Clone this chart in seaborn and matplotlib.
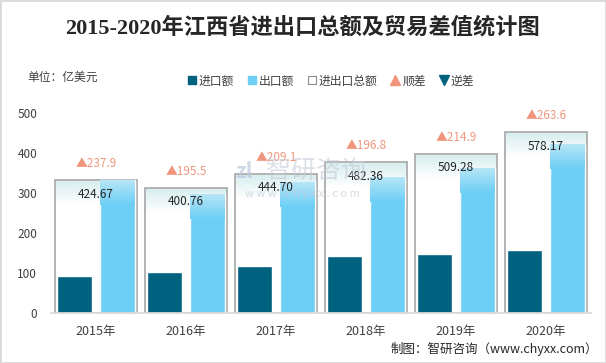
import numpy as np
import pandas as pd
import matplotlib
matplotlib.use("Agg")
import matplotlib.pyplot as plt
import seaborn as sns
from matplotlib.colors import LinearSegmentedColormap
from matplotlib.lines import Line2D
from matplotlib.patches import Rectangle

years = ["2015年", "2016年", "2017年", "2018年", "2019年", "2020年"]
imports = [93.4, 102.6, 117.8, 142.8, 147.2, 157.3]
exports = [331.3, 298.1, 326.9, 339.6, 362.1, 420.9]
totals = [424.67, 400.76, 444.70, 482.36, 509.28, 578.17]
surplus = [237.9, 195.5, 209.1, 196.8, 214.9, 263.6]

c_imp = "#00627f"
c_exp = "#6dcff6"
c_box = "#a6a6a6"
c_tri = "#f0967c"

sns.set_theme(style="white")
plt.rcParams["font.family"] = ["Noto Sans CJK SC", "DejaVu Sans"]

df = pd.DataFrame({
    "年份": years * 2,
    "类型": ["进口额"] * 6 + ["出口额"] * 6,
    "金额": imports + exports,
})

fig = plt.figure(figsize=(6.06, 3.63), dpi=100)
ax = fig.add_axes([51 / 606, 50 / 363, 540 / 606, 200 / 363])
ax2 = ax.twinx()
ax.set_zorder(2)
ax2.set_zorder(1)
ax.patch.set_visible(False)

# total boxes on hidden secondary axis
sns.barplot(x=years, y=totals, color="white", edgecolor=c_box, linewidth=1.2,
            width=0.91, saturation=1, ax=ax2)
ax2.set_ylim(0, 640)
grad_box = LinearSegmentedColormap.from_list("gb", ["#ffffff", "#d8eeef"])
for p in ax2.patches:
    x0, w, h = p.get_x(), p.get_width(), p.get_height()
    ax2.imshow(np.linspace(0, 1, 50).reshape(-1, 1), cmap=grad_box, aspect="auto",
               origin="lower", extent=[x0 + 0.012, x0 + w - 0.012, h - 80, h - 4],
               zorder=p.get_zorder() + 0.1)

# import / export bars
sns.barplot(data=df, x="年份", y="金额", hue="类型", palette=[c_imp, c_exp],
            width=0.96, gap=0.2, saturation=1, errorbar=None, legend=False, ax=ax)
grad_exp = LinearSegmentedColormap.from_list("ge", [c_exp, "#b6e5f6"])
for p in ax.patches:
    if p.get_height() > 200:
        x0, w, h = p.get_x(), p.get_width(), p.get_height()
        ax.imshow(np.linspace(0, 1, 50).reshape(-1, 1), cmap=grad_exp, aspect="auto",
                  origin="lower", extent=[x0, x0 + w, h - 62, h],
                  zorder=p.get_zorder() + 0.1)

for i, (t, s) in enumerate(zip(totals, surplus)):
    ax.annotate(f"{t:.2f}", xy=(i, t), xycoords=ax2.transData, xytext=(0, -10),
                textcoords="offset points", ha="center", va="center",
                fontsize=8.5, color="#262626", zorder=10)
    ax.annotate(f"▲{s}", xy=(i, t), xycoords=ax2.transData, xytext=(0, 12),
                textcoords="offset points", ha="center", va="center",
                fontsize=8.5, color=c_tri, zorder=10, annotation_clip=False)

ax.set_xlim(-0.5, 5.5)
ax.set_ylim(0, 500)
ax2.set_xlim(-0.5, 5.5)
ax.set_yticks([0, 100, 200, 300, 400, 500])
ax.set_xlabel("")
ax.set_ylabel("")
ax.tick_params(axis="y", length=0, pad=10, labelsize=8.5, labelcolor="#404040")
ax.tick_params(axis="x", length=0, pad=9, labelsize=9, labelcolor="#404040")
ax2.set_yticks([])
for a in (ax, ax2):
    for sp in a.spines.values():
        sp.set_visible(False)
ax.spines["bottom"].set_visible(True)
ax.spines["bottom"].set_color("#d9d9d9")

# watermark
fig.text(244 / 606, 1 - 172 / 363, "zl", fontsize=15, fontweight="bold",
         color="#bcc6de", alpha=0.7, ha="center", va="center", zorder=20)
fig.text(316 / 606, 1 - 171 / 363, "智研咨询", fontsize=18, color="#c5cad6",
         alpha=0.6, ha="center", va="center", zorder=20)
fig.text(302 / 606, 1 - 194 / 363, "w w w . c h y x x . c o m", fontsize=8,
         color="#c5cad6", alpha=0.7, ha="center", va="center", zorder=20)

fig.text(0.5, 1 - 28 / 363, "2015-2020年江西省进出口总额及贸易差值统计图",
         family=["Liberation Serif", "Noto Sans CJK SC"], fontweight="bold",
         fontsize=16, color="#262626", ha="center", va="center")
fig.text(27 / 606, 1 - 77 / 363, "单位：亿美元", fontsize=8.5, color="#404040",
         ha="left", va="center")
fig.text(598 / 606, 1 - 349 / 363, "制图：智研咨询（www.chyxx.com）", fontsize=9,
         color="#262626", ha="right", va="center")

handles = [
    Line2D([], [], marker="s", ls="", color=c_imp, markersize=6),
    Line2D([], [], marker="s", ls="", color=c_exp, markersize=6),
    Line2D([], [], marker="s", ls="", markerfacecolor="white", markeredgecolor="#8c8c8c",
           markersize=6, markeredgewidth=0.8),
    Line2D([], [], marker="^", ls="", color=c_tri, markersize=7),
    Line2D([], [], marker="v", ls="", color=c_imp, markersize=7),
]
fig.legend(handles, ["进口额", "出口额", "进出口总额", "顺差", "逆差"], ncol=5,
           loc="center", bbox_to_anchor=(330 / 606, 1 - 81 / 363), frameon=False,
           fontsize=8.5, handletextpad=0.1, columnspacing=1.0, handlelength=1.0,
           labelcolor="#404040")

fig.add_artist(Rectangle((0, 0), 1, 1, transform=fig.transFigure, fill=False,
                         edgecolor="#d9d9d9", linewidth=2))

fig.savefig("out.png", dpi=100)
